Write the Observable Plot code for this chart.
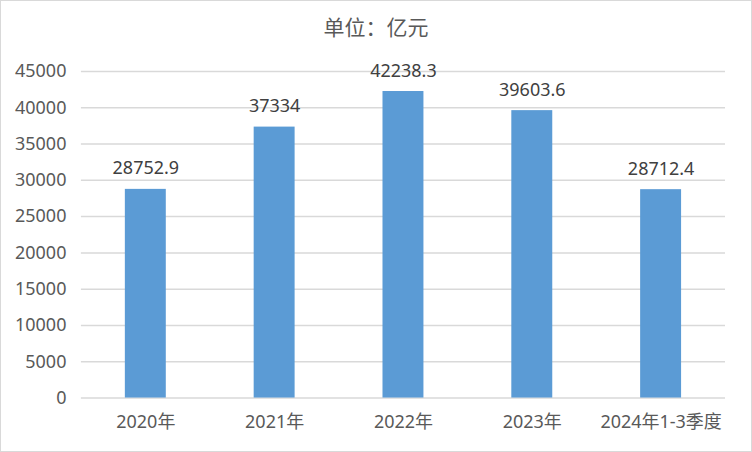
<!DOCTYPE html>
<html>
<head>
<meta charset="utf-8">
<script src="https://cdn.jsdelivr.net/npm/d3@7"></script>
<script src="https://cdn.jsdelivr.net/npm/@observablehq/plot@0.6"></script>
<style>
  html, body { margin: 0; padding: 0; background: #fff; }
  #frame { width: 752px; height: 452px; box-sizing: border-box; border: 1px solid #d9d9d9; position: relative; overflow: hidden;
    font-family: "Noto Sans", "Noto Sans CJK SC", sans-serif; }
  #title { position: absolute; top: 0; left: 0; width: 750px; height: 50px; line-height: 52px; text-align: center;
    font-size: 21px; color: #595959; font-family: "Noto Sans", "Noto Sans CJK SC", sans-serif; }
  #chart { position: absolute; top: 49px; left: -1px; }
</style>
</head>
<body>
<div id="frame">
  <div id="title">单位：亿元</div>
  <div id="chart"></div>
</div>
<script>
const categories = ["2020年", "2021年", "2022年", "2023年", "2024年1-3季度"];
const values = [28752.9, 37334, 42238.3, 39603.6, 28712.4];
const valueLabels = ["28752.9", "37334", "42238.3", "39603.6", "28712.4"];
const yTicks = [0, 5000, 10000, 15000, 20000, 25000, 30000, 35000, 40000, 45000];

const data = categories.map((c, i) => ({cat: c, value: values[i], label: valueLabels[i]}));
const FONT = "'Noto Sans', 'Noto Sans CJK SC', sans-serif";

const chart = Plot.plot({
  width: 752,
  height: 400,
  marginTop: 21,
  marginBottom: 52,
  marginLeft: 81,
  marginRight: 26,
  style: {fontFamily: FONT, fontSize: "18px", color: "#595959", background: "transparent"},
  x: {domain: categories, paddingInner: 0.68, paddingOuter: 0.34, label: null},
  y: {domain: [0, 45000], ticks: yTicks, label: null},
  marks: [
    Plot.ruleY(yTicks, {stroke: "#d9d9d9", strokeWidth: 1.5}),
    Plot.barY(data, {x: "cat", y: "value", fill: "#5B9BD5"}),
    Plot.text(data, {x: "cat", y: "value", text: "label", lineAnchor: "bottom", dy: -15, fill: "#404040", fontSize: 18}),
    Plot.axisY({ticks: yTicks, tickSize: 0, tickPadding: 15, fontSize: 18, fill: "#595959", tickFormat: d => String(d), label: null}),
    Plot.axisX({tickSize: 0, tickPadding: 17, fontSize: 18, fill: "#595959", label: null})
  ]
});
document.getElementById("chart").appendChild(chart);
</script>
</body>
</html>
